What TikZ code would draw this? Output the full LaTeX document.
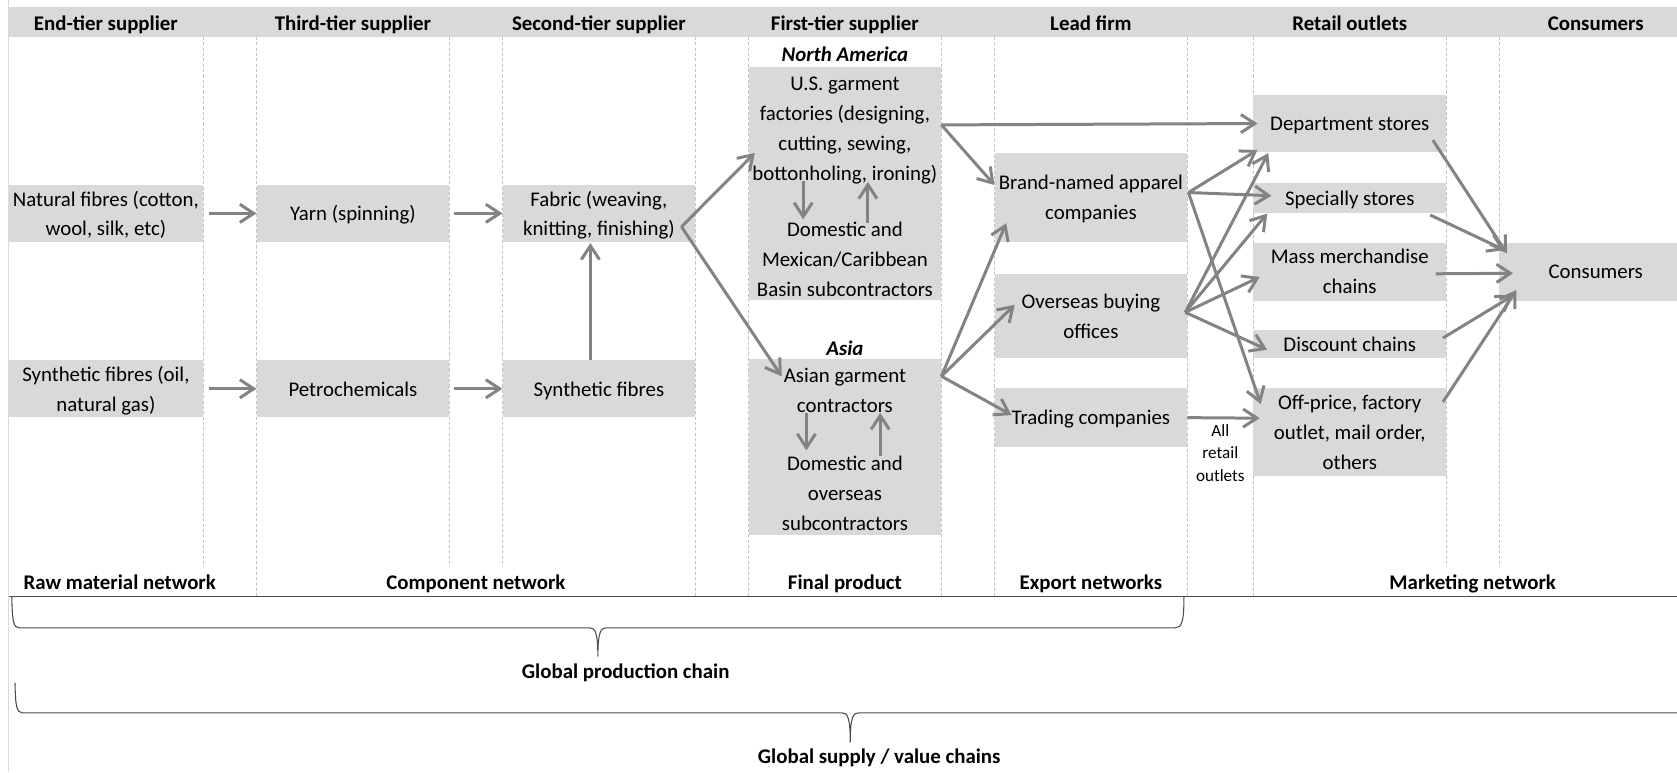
\documentclass[tikz,border=0pt]{standalone}
\usepackage{fontspec}
\setmainfont{Carlito}
\usetikzlibrary{arrows.meta}
\definecolor{cellgray}{HTML}{D9D9D9}
\definecolor{flowgray}{HTML}{838383}
\definecolor{rulegray}{HTML}{C4C4C4}
\definecolor{edgegray}{HTML}{D5DAE6}

\begin{document}
\begin{tikzpicture}[x=1pt,y=-1pt]

\tikzstyle{cell}=[fill=cellgray, inner sep=0pt, minimum width=180pt, text depth=-5pt, align=center, font=\fontsize{19.5}{28}\selectfont]
\tikzstyle{txt}=[inner sep=0pt, anchor=base, text depth=0pt, align=center, font=\fontsize{19.5}{28}\selectfont]
\tikzstyle{head}=[inner sep=0pt, anchor=base, font=\fontsize{19.5}{24}\selectfont\bfseries]
\tikzstyle{flow}=[draw=flowgray, line width=2.8pt, -{Straight Barb[length=13pt,width=17pt]}]
\tikzstyle{grid}=[draw=rulegray, line width=0.7pt, dash pattern=on 3pt off 2pt]
\tikzstyle{brace}=[draw=black!70, line width=1pt]

\useasboundingbox (0,0) rectangle (1568,722);

% sheet edge and header row
\fill[cellgray] (8,6.5) rectangle (1600,34.5);
\draw[edgegray, line width=1pt] (8,0) -- (8,722);

% column rules
\foreach \x in {240,650,700,880,930,1110,1172} \draw[grid] (\x,34.5) -- (\x,558);
\foreach \x in {190,420,470,1352,1402} \draw[grid] (\x,34.5) -- (\x,530);

\node[head] (hEnd) at (99,28.5) {End-tier supplier};
\node[head] (hThird) at (330,28.5) {Third-tier supplier};
\node[head] (hSecond) at (560,28.5) {Second-tier supplier};
\node[head] (hFirst) at (790,28.5) {First-tier supplier};
\node[head] (hLead) at (1020,28.5) {Lead firm};
\node[head] (hRetail) at (1262,28.5) {Retail outlets};
\node[head] (hCons) at (1492,28.5) {Consumers};

% raw material and components
\node[cell, minimum width=182pt, minimum height=53pt] (nat) at (99,199.5) {Natural fibres (cotton,\\ wool, silk, etc)};
\node[cell, minimum height=53pt] (yarn) at (330,199.5) {Yarn (spinning)};
\node[cell, minimum height=53pt] (fab) at (560,199.5) {Fabric (weaving,\\ knitting, finishing)};
\node[cell, minimum width=182pt, minimum height=53pt] (syn) at (99,363.5) {Synthetic fibres (oil,\\ natural gas)};
\node[cell, minimum height=53pt] (petro) at (330,363.5) {Petrochemicals};
\node[cell, minimum height=53pt] (sfib) at (560,363.5) {Synthetic fibres};

% first tier
\node[head, font=\fontsize{19.5}{24}\selectfont\bfseries\itshape] (na) at (790,57.5) {North America};
\node[cell, minimum height=218pt] (naBox) at (790,171.5) {};
\node[txt] (usg) at (790,168.6) {U.S. garment\\ factories (designing,\\ cutting, sewing,\\ bottonholing, ironing)};
\node[txt] (usd) at (790,276.8) {Domestic and\\ Mexican/Caribbean\\ Basin subcontractors};
\node[head, font=\fontsize{19.5}{24}\selectfont\bfseries\itshape] (asia) at (790,332) {Asia};
\node[cell, minimum height=164pt] (asBox) at (790,418) {};
\node[txt] (asg) at (790,385.8) {Asian garment\\ contractors};
\node[txt] (asd) at (790,495.9) {Domestic and\\ overseas\\ subcontractors};

% lead firm
\node[cell, minimum height=83pt] (brand) at (1020,184.5) {Brand-named apparel\\ companies};
\node[cell, minimum height=79pt] (obo) at (1020,295.5) {Overseas buying\\ offices};
\node[cell, minimum height=55pt] (trade) at (1020,390.5) {Trading companies};

% retail outlets
\node[cell, minimum height=53pt] (dept) at (1262,115.5) {Department stores};
\node[cell, minimum height=28pt] (spec) at (1262,185.5) {Specially stores};
\node[cell, minimum height=54pt] (mass) at (1262,254) {Mass merchandise\\ chains};
\node[cell, minimum height=26pt] (disc) at (1262,322) {Discount chains};
\node[cell, minimum height=82pt] (offp) at (1262,404) {Off-price, factory\\ outlet, mail order,\\ others};
\node[txt, font=\fontsize{16}{21}\selectfont] (allr) at (1141,450) {All\\ retail\\ outlets};

\node[cell, minimum height=54pt] (cons) at (1492,254) {Consumers};

% flows
\coordinate (fabOut) at ([xshift=-13pt,yshift=-12.5pt]fab.east);
\coordinate (naOut) at ([yshift=-54.5pt]naBox.north east);
\coordinate (asOut) at ([yshift=-16pt]asBox.north east);
\coordinate (brandOut) at ([xshift=1pt,yshift=4.5pt]brand.east);
\coordinate (oboOut) at ([xshift=-2pt,yshift=3.5pt]obo.east);

\draw[flow] ([xshift=5pt]nat.east) -- (yarn.west);
\draw[flow] ([xshift=4pt]yarn.east) -- (fab.west);
\draw[flow] ([xshift=5pt]syn.east) -- (petro.west);
\draw[flow] ([xshift=4pt]petro.east) -- (sfib.west);
\draw[flow] ([xshift=-8pt]sfib.north) -- ([xshift=-8pt,yshift=-1pt]fab.south);
\draw[flow] (fabOut) -- ([xshift=6pt,yshift=28.5pt]naBox.west);
\draw[flow] (fabOut) -- ([xshift=31pt,yshift=-16pt]asBox.north west);

\draw[flow] ([xshift=-39pt]usg.south) -- ([xshift=-39pt,yshift=2pt]usd.north);
\draw[flow] ([xshift=21.5pt,yshift=-1.5pt]usd.north) -- ([xshift=21.5pt,yshift=-1.4pt]usg.south);
\draw[flow] ([xshift=-36pt]asg.south) -- ([xshift=-36pt,yshift=5pt]asd.north);
\draw[flow] ([xshift=33pt]asd.north) -- ([xshift=33pt]asg.south);

\draw[flow] (naOut) -- ([xshift=4pt]dept.west);
\draw[flow] (naOut) -- ([yshift=11.5pt]brand.west);
\draw[flow] (asOut) -- ([xshift=11pt,yshift=17.5pt]brand.south west);
\draw[flow] (asOut) -- ([xshift=19pt,yshift=10.5pt]obo.west);
\draw[flow] (asOut) -- ([xshift=16pt,yshift=2.5pt]trade.west);

\draw[flow] (brandOut) -- ([xshift=4pt,yshift=2pt]dept.south west);
\draw[flow] (brandOut) -- ([xshift=17pt,yshift=2.5pt]spec.west);
\draw[flow] (brandOut) -- ([xshift=7pt,yshift=-15pt]offp.north west);
\draw[flow] (oboOut) -- ([xshift=14pt,yshift=-1pt]dept.south west);
\draw[flow] (oboOut) -- ([xshift=13pt]spec.south west);
\draw[flow] (oboOut) -- ([xshift=6pt,yshift=-5pt]mass.west);
\draw[flow] (oboOut) -- ([xshift=13pt,yshift=-5pt]disc.west);
\draw[flow] (trade.east) -- ([xshift=6pt,yshift=13pt]offp.west);

\draw[flow] ([xshift=-12.5pt,yshift=-15.5pt]dept.east) -- ([xshift=7pt,yshift=-10pt]cons.north west);
\draw[flow] ([xshift=-15pt,yshift=-15.5pt]spec.east) -- ([xshift=5pt,yshift=-7pt]cons.north west);
\draw[flow] ([xshift=-10pt,yshift=-2pt]mass.east) -- ([xshift=13pt,yshift=-1.5pt]cons.west);
\draw[flow] ([xshift=-3pt,yshift=6pt]disc.east) -- ([xshift=13pt,yshift=5pt]cons.south west);
\draw[flow] ([xshift=-3pt,yshift=-13pt]offp.north east) -- ([xshift=16pt,yshift=10pt]cons.south west);

% network row
\node[head, anchor=base west] (raw) at (22,551) {Raw material network};
\node[head] (comp) at (445,551) {Component network};
\node[head] (fin) at (790,551) {Final product};
\node[head] (exp) at (1020,551) {Export networks};
\node[head] (mkt) at (1377,551) {Marketing network};
\draw[brace] (8,558) -- (1600,558);

% braces
\draw[brace] (11,558) .. controls (11.5,581) and (12.5,587) .. (18,587) -- (551,587) .. controls (556,587) and (559,590) .. (559,614) .. controls (559,590) and (562,587) .. (567,587) -- (1099,587) .. controls (1105,587) and (1107,581) .. (1107,558);
\node[head] (gpc) at (585,634) {Global production chain};

\draw[brace] (14,638.5) .. controls (14.5,660) and (15.5,666.5) .. (21,666.5) -- (787,666.5) .. controls (792,666.5) and (795,669.5) .. (795,694) .. controls (795,669.5) and (798,666.5) .. (803,666.5) -- (1620,666.5);
\node[head] (gsv) at (822,714) {Global supply / value chains};

\end{tikzpicture}
\end{document}
